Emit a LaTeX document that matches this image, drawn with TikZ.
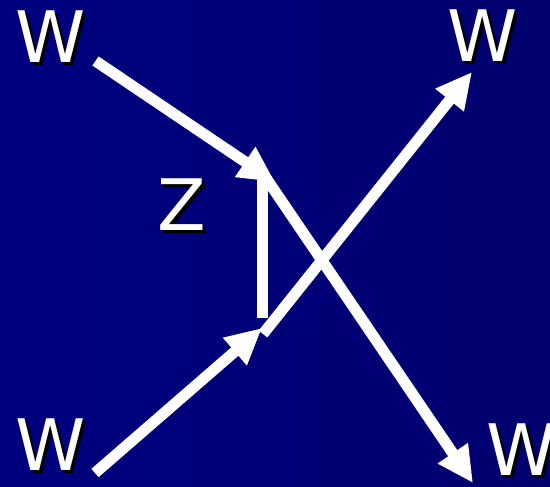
\documentclass[tikz,border=0pt]{standalone}
\usepackage{fontspec}
\setmainfont{DejaVu Sans}
\usetikzlibrary{arrows.meta}
\definecolor{bgleft}{RGB}{0,0,128}
\definecolor{bgright}{RGB}{0,0,110}
\newcommand{\shadowed}[1]{\makebox[0pt][l]{\smash{\hspace{3pt}\raisebox{-3pt}{\color{black}#1}}}#1}

\begin{document}
\begin{tikzpicture}[
            x=1pt, y=-1pt,
            lbl/.style={inner sep=0pt, text=white,
                        font=\fontsize{71}{71}\selectfont},
            wire/.style={line width=11pt, white},
            arrow/.style={wire, -{Triangle[length=36pt, width=34pt]}},
        ]
            \clip (0,0) rectangle (550,487);
            \shade[left color=bgleft, right color=bgright] (0,0) rectangle (550,487);

            \node[lbl] (wtl) at (51,37) {\shadowed{W}};
            \node[lbl] (wtr) at (483,36) {\shadowed{W}};
            \node[lbl] (wbl) at (51,445) {\shadowed{W}};
            \node[lbl] (wbr) at (522,450) {\shadowed{W}};
            \node[lbl] (z) at (182,205) {\shadowed{Z}};

            \coordinate (intl) at (95.5,61);
            \coordinate (inbl) at (95,473);
            \coordinate (ztop) at (262,180);
            \coordinate (zbot) at (262,318);
            \coordinate (tipin) at (275,182);
            \coordinate (tipbl) at (262,328);
            \coordinate (outbr) at (266,178);
            \coordinate (outtr) at (263,334);
            \coordinate (tipbr) at (473,483);
            \coordinate (tiptr) at (472,72);

            \draw[wire] (ztop) -- (zbot);
            \draw[arrow] (outbr) -- (tipbr);
            \draw[arrow] (outtr) -- (tiptr);
            \draw[arrow] (intl) -- (tipin);
            \draw[arrow] (inbl) -- (tipbl);
        \end{tikzpicture}
\end{document}
